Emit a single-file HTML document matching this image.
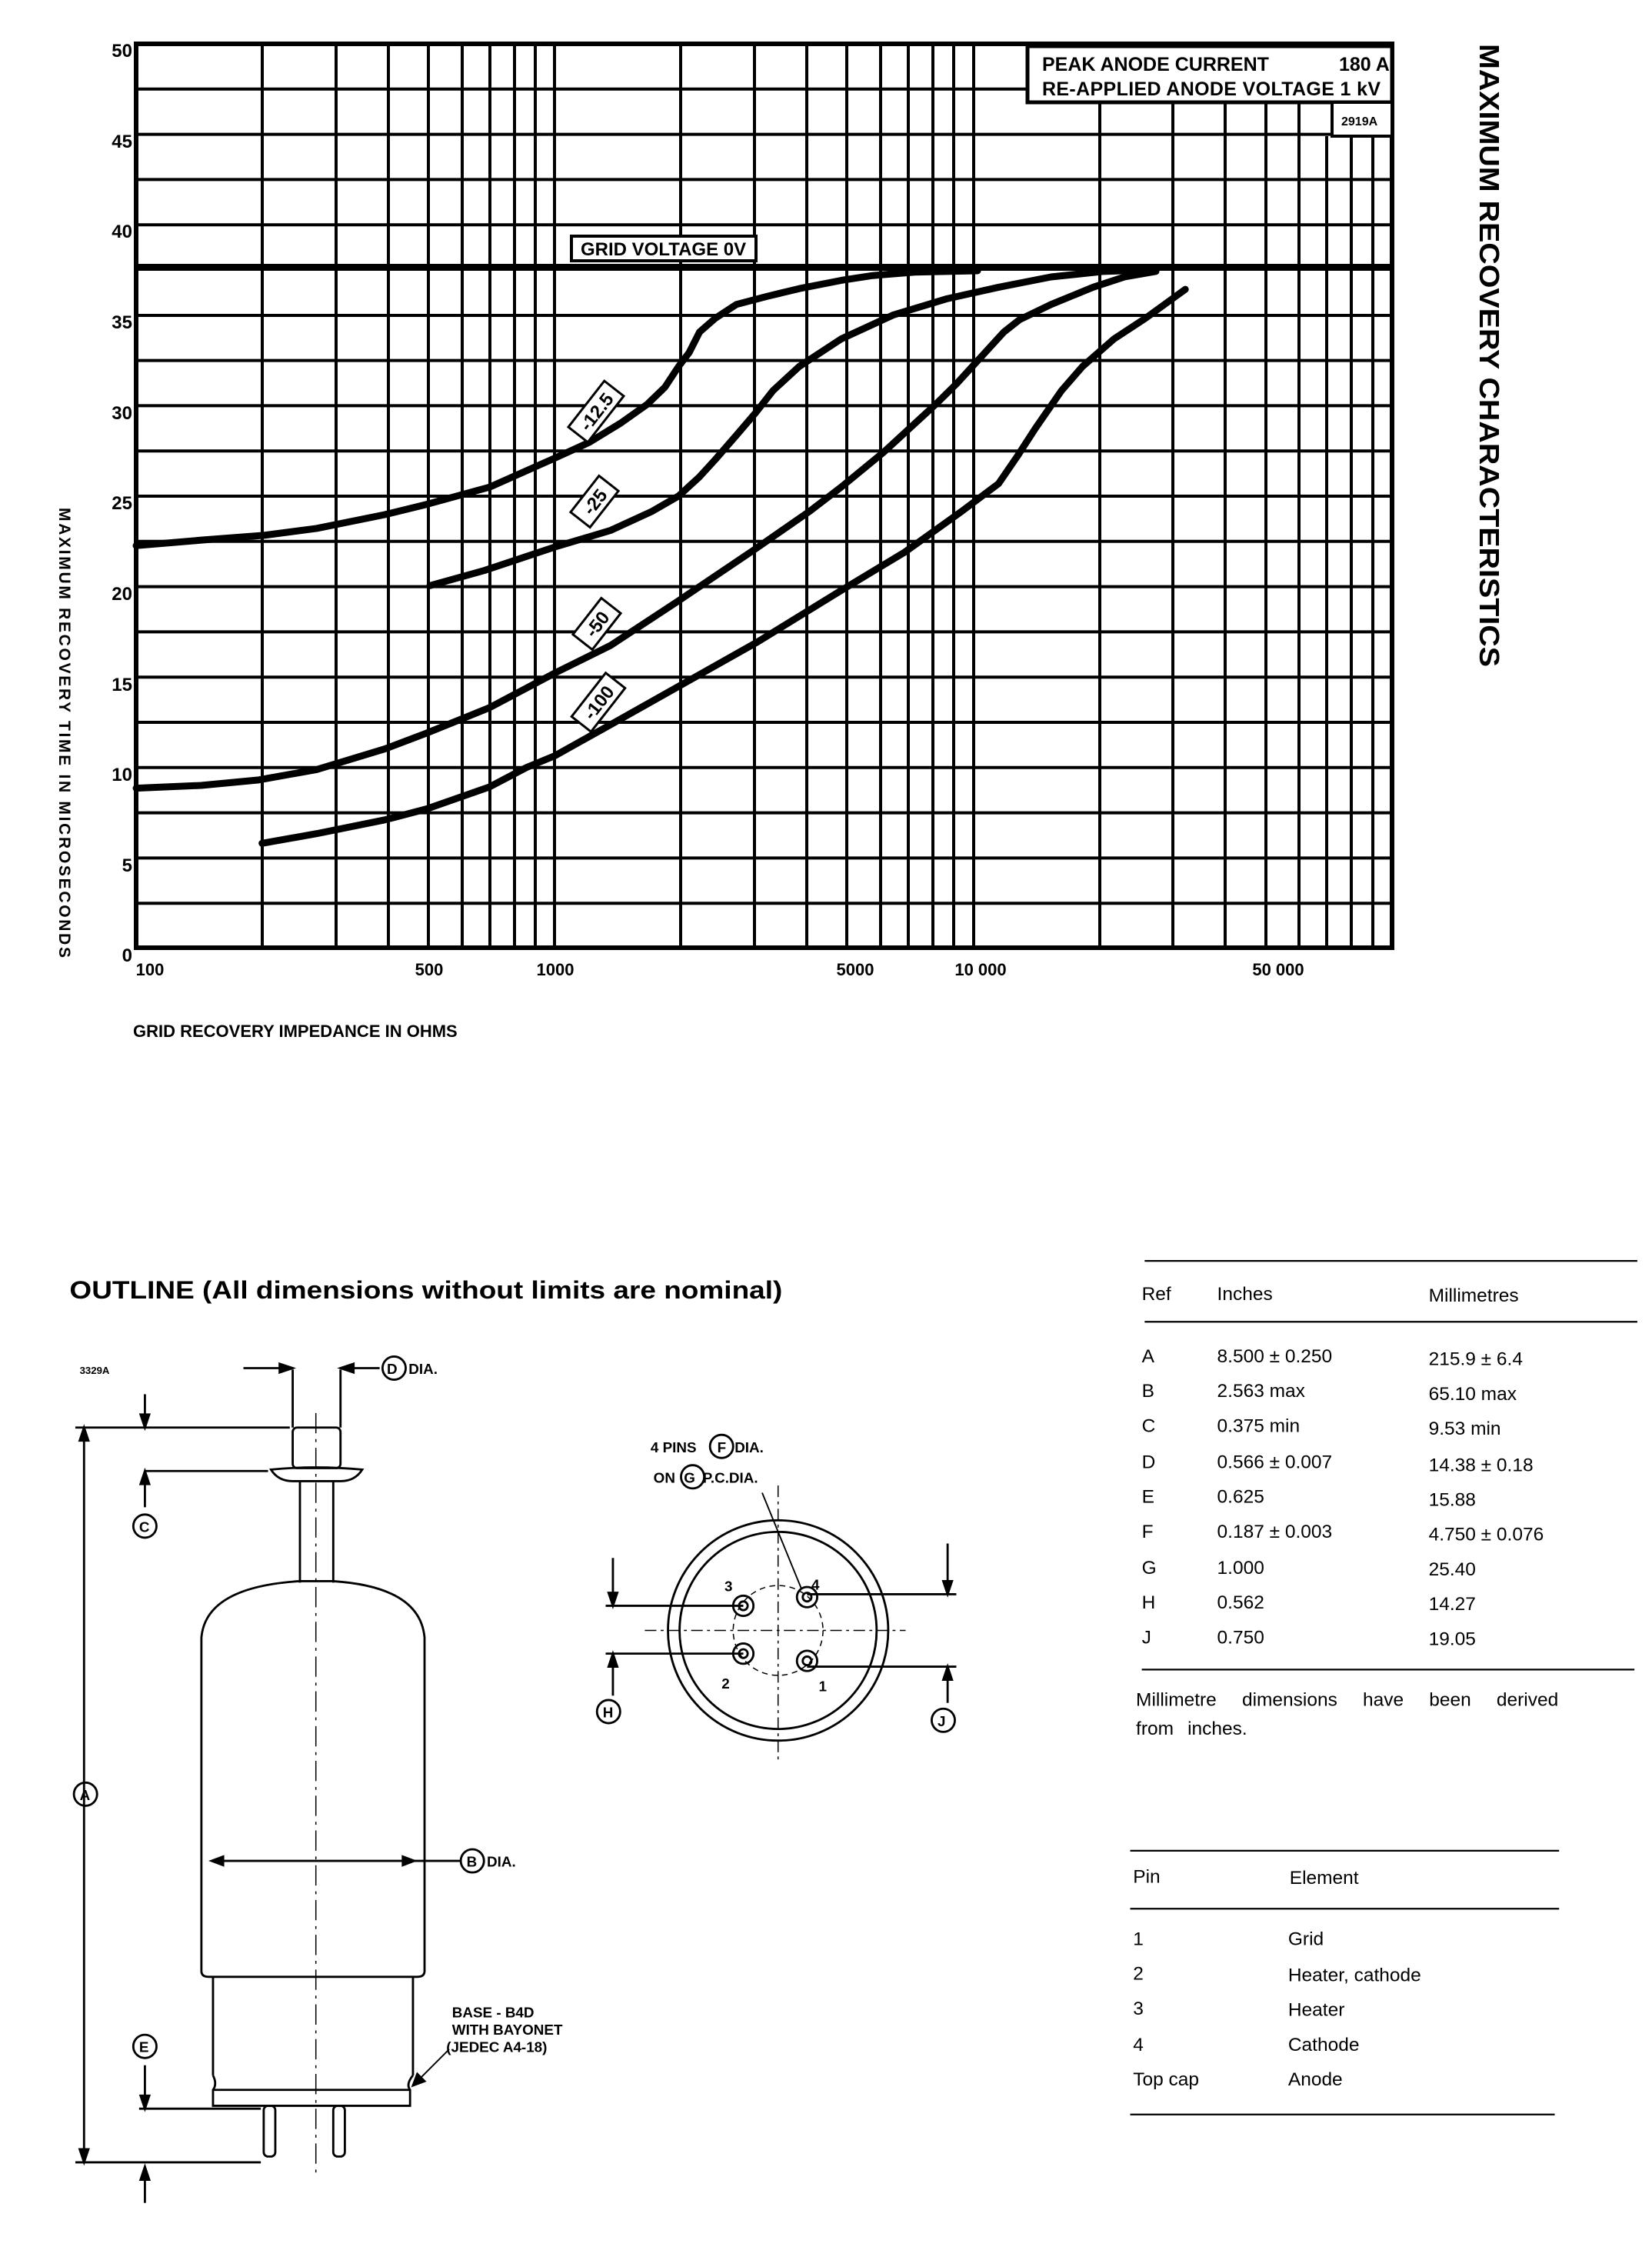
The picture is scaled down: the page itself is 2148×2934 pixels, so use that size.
<!DOCTYPE html>
<html><head><meta charset="utf-8"><style>
html,body{margin:0;padding:0;background:#fff}
svg{display:block}
text{font-family:"Liberation Sans",sans-serif;fill:#000}
.c{font-family:"Liberation Sans Narrow","Liberation Sans",sans-serif;font-weight:bold}
</style></head><body>
<svg width="2148" height="2934" viewBox="0 0 2148 2934" xmlns="http://www.w3.org/2000/svg">
<rect width="2148" height="2934" fill="#fff"/>
<g stroke="#000" stroke-width="4" fill="none">
<rect x="177" y="57" width="1633" height="1175" stroke-width="6"/>
<g>
<line x1="177" y1="115.8" x2="1810" y2="115.8"/><line x1="177" y1="174.6" x2="1810" y2="174.6"/>
<line x1="177" y1="233.4" x2="1810" y2="233.4"/><line x1="177" y1="292.2" x2="1810" y2="292.2"/>
<line x1="177" y1="410" x2="1810" y2="410"/><line x1="177" y1="468.6" x2="1810" y2="468.6"/>
<line x1="177" y1="527.4" x2="1810" y2="527.4"/><line x1="177" y1="586.2" x2="1810" y2="586.2"/>
<line x1="177" y1="645" x2="1810" y2="645"/><line x1="177" y1="703.8" x2="1810" y2="703.8"/>
<line x1="177" y1="762.6" x2="1810" y2="762.6"/><line x1="177" y1="821.4" x2="1810" y2="821.4"/>
<line x1="177" y1="880.2" x2="1810" y2="880.2"/><line x1="177" y1="939" x2="1810" y2="939"/>
<line x1="177" y1="997.8" x2="1810" y2="997.8"/><line x1="177" y1="1056.6" x2="1810" y2="1056.6"/>
<line x1="177" y1="1115.4" x2="1810" y2="1115.4"/><line x1="177" y1="1174.2" x2="1810" y2="1174.2"/>
</g>
<g>
<line x1="341" y1="57" x2="341" y2="1232"/><line x1="437" y1="57" x2="437" y2="1232"/><line x1="505" y1="57" x2="505" y2="1232"/><line x1="557" y1="57" x2="557" y2="1232"/><line x1="601" y1="57" x2="601" y2="1232"/><line x1="637" y1="57" x2="637" y2="1232"/><line x1="669" y1="57" x2="669" y2="1232"/><line x1="696" y1="57" x2="696" y2="1232"/><line x1="721" y1="57" x2="721" y2="1232"/>
<line x1="885" y1="57" x2="885" y2="1232"/><line x1="981" y1="57" x2="981" y2="1232"/><line x1="1049" y1="57" x2="1049" y2="1232"/><line x1="1101" y1="57" x2="1101" y2="1232"/><line x1="1145" y1="57" x2="1145" y2="1232"/><line x1="1181" y1="57" x2="1181" y2="1232"/><line x1="1213" y1="57" x2="1213" y2="1232"/><line x1="1240" y1="57" x2="1240" y2="1232"/><line x1="1266" y1="57" x2="1266" y2="1232"/>
<line x1="1430" y1="133" x2="1430" y2="1232"/><line x1="1525" y1="133" x2="1525" y2="1232"/><line x1="1593" y1="133" x2="1593" y2="1232"/><line x1="1646" y1="133" x2="1646" y2="1232"/><line x1="1689" y1="133" x2="1689" y2="1232"/><line x1="1725" y1="177" x2="1725" y2="1232"/><line x1="1757" y1="177" x2="1757" y2="1232"/><line x1="1785" y1="177" x2="1785" y2="1232"/>
</g>
<rect x="1336" y="60" width="474" height="73" fill="#fff" stroke-width="5"/>
<rect x="1732" y="133" width="78" height="44" fill="#fff" stroke-width="4"/>
<rect x="177" y="343" width="1633" height="9" fill="#000" stroke="none"/>
</g>
<text x="1355" y="92" class="c" font-size="25">PEAK ANODE CURRENT</text>
<text x="1741" y="92" class="c" font-size="25">180 A</text>
<text x="1355" y="124" class="c" font-size="25" textLength="440">RE-APPLIED ANODE VOLTAGE 1 kV</text>
<text x="1744" y="163" class="c" font-size="16">2919A</text>
<g transform="translate(2.38,1.72) scale(1.3642,0.8957)" fill="none" stroke="#000" stroke-width="9" stroke-linejoin="round" stroke-linecap="round">
<path vector-effect="non-scaling-stroke" d="M128,790 L190,782 L250,775 L300,765 L365,745 L405,730 L465,705 L527,663 L560,640 L590,612 L615,585 L632,560 L645,530 L655,510 L665,480 L680,460 L700,440 L730,428 L760,417 L800,405 L830,398 L870,393 L930,391"/>
<path vector-effect="non-scaling-stroke" d="M408,848 L460,826 L527,792 L580,768 L620,740 L645,718 L665,690 L680,665 L700,630 L718,598 L735,565 L760,530 L800,490 L850,455 L900,432 L950,415 L1000,400 L1050,392 L1090,390"/>
<path vector-effect="non-scaling-stroke" d="M128,1142 L190,1138 L245,1130 L300,1115 L365,1085 L405,1062 L465,1025 L527,975 L580,935 L645,870 L718,795 L770,740 L800,705 L840,655 L865,620 L890,585 L910,555 L925,530 L940,505 L955,480 L970,462 L1000,440 L1040,415 L1070,400 L1100,392"/>
<path vector-effect="non-scaling-stroke" d="M248,1222 L300,1208 L365,1188 L405,1172 L465,1140 L500,1112 L527,1095 L580,1050 L650,990 L720,930 L800,855 L860,800 L915,740 L950,700 L968,660 L985,620 L995,598 L1010,565 L1030,530 L1060,490 L1090,460 L1128,418"/>
</g>
<g stroke="#000" stroke-width="3" fill="#fff">
<g transform="translate(775,535) rotate(-52)"><rect x="-38" y="-16" width="76" height="32"/><text x="0" y="9" text-anchor="middle" class="c" font-size="24" stroke="none">-12.5</text></g>
<g transform="translate(773,652) rotate(-52)"><rect x="-30" y="-16" width="60" height="32"/><text x="0" y="9" text-anchor="middle" class="c" font-size="24" stroke="none">-25</text></g>
<g transform="translate(776,811) rotate(-52)"><rect x="-30" y="-16" width="60" height="32"/><text x="0" y="9" text-anchor="middle" class="c" font-size="24" stroke="none">-50</text></g>
<g transform="translate(778,913) rotate(-52)"><rect x="-36" y="-16" width="72" height="32"/><text x="0" y="9" text-anchor="middle" class="c" font-size="24" stroke="none">-100</text></g>
<rect x="743" y="307" width="240" height="32" stroke-width="4"/>
</g>
<text x="755" y="332" class="c" font-size="24">GRID VOLTAGE 0V</text>
<g class="c" font-size="24" text-anchor="end">
<text x="172" y="74">50</text><text x="172" y="192">45</text><text x="172" y="309">40</text><text x="172" y="427">35</text><text x="172" y="545">30</text><text x="172" y="662">25</text><text x="172" y="780">20</text><text x="172" y="898">15</text><text x="172" y="1015">10</text><text x="172" y="1133">5</text><text x="172" y="1250">0</text>
</g>
<g class="c" font-size="22" text-anchor="middle">
<text x="195" y="1268">100</text><text x="558" y="1268">500</text><text x="722" y="1268">1000</text><text x="1112" y="1268">5000</text><text x="1275" y="1268">10 000</text><text x="1662" y="1268">50 000</text>
</g>
<text x="173" y="1348" class="c" font-size="22">GRID RECOVERY IMPEDANCE IN OHMS</text>
<text transform="translate(77,660) rotate(90)" class="c" font-size="21" textLength="585">MAXIMUM RECOVERY TIME IN MICROSECONDS</text>
<text transform="translate(1924,57) rotate(90)" font-weight="bold" font-size="36" textLength="810" lengthAdjust="spacingAndGlyphs">MAXIMUM RECOVERY CHARACTERISTICS</text>

<g transform="scale(1.884)">
<text x="48" y="896" font-weight="bold" font-size="17" textLength="492" lengthAdjust="spacingAndGlyphs">OUTLINE (All dimensions without limits are nominal)</text>
<g font-size="13">
<line x1="790" y1="870" x2="1130" y2="870" stroke="#000" stroke-width="1.2"/>
<text x="788" y="897">Ref</text><text x="840" y="897">Inches</text><text x="986" y="898">Millimetres</text>
<line x1="790" y1="912" x2="1130" y2="912" stroke="#000" stroke-width="1.2"/>
<text x="788" y="940">A</text><text x="840" y="940">8.500 ± 0.250</text><text x="986" y="942">215.9 ± 6.4</text>
<text x="788" y="964">B</text><text x="840" y="964">2.563 max</text><text x="986" y="966">65.10 max</text>
<text x="788" y="988">C</text><text x="840" y="988">0.375 min</text><text x="986" y="990">9.53 min</text>
<text x="788" y="1013">D</text><text x="840" y="1013">0.566 ± 0.007</text><text x="986" y="1015">14.38 ± 0.18</text>
<text x="788" y="1037">E</text><text x="840" y="1037">0.625</text><text x="986" y="1039">15.88</text>
<text x="788" y="1061">F</text><text x="840" y="1061">0.187 ± 0.003</text><text x="986" y="1063">4.750 ± 0.076</text>
<text x="788" y="1086">G</text><text x="840" y="1086">1.000</text><text x="986" y="1087">25.40</text>
<text x="788" y="1110">H</text><text x="840" y="1110">0.562</text><text x="986" y="1111">14.27</text>
<text x="788" y="1134">J</text><text x="840" y="1134">0.750</text><text x="986" y="1135">19.05</text>
<line x1="788" y1="1152" x2="1128" y2="1152" stroke="#000" stroke-width="1.2"/>
<text x="784" y="1177" word-spacing="14">Millimetre dimensions have been derived</text>
<text x="784" y="1197" word-spacing="6">from inches.</text>
<line x1="780" y1="1277" x2="1076" y2="1277" stroke="#000" stroke-width="1.2"/>
<text x="782" y="1299">Pin</text><text x="890" y="1300">Element</text>
<line x1="780" y1="1317" x2="1076" y2="1317" stroke="#000" stroke-width="1.2"/>
<text x="782" y="1342">1</text><text x="889" y="1342">Grid</text>
<text x="782" y="1366">2</text><text x="889" y="1367">Heater, cathode</text>
<text x="782" y="1390">3</text><text x="889" y="1391">Heater</text>
<text x="782" y="1415">4</text><text x="889" y="1415">Cathode</text>
<text x="782" y="1439">Top cap</text><text x="889" y="1439">Anode</text>
<line x1="780" y1="1459" x2="1073" y2="1459" stroke="#000" stroke-width="1.2"/>
</g>
<g fill="none" stroke="#000" stroke-width="1.5">
<rect x="202" y="985" width="33" height="28" rx="3"/>
<path d="M187,1014 Q218,1011 250,1014 Q245,1022 235,1022 L202,1022 Q192,1022 187,1014Z"/>
<line x1="207" y1="1022" x2="207" y2="1092"/><line x1="230" y1="1022" x2="230" y2="1092"/>
<path d="M139,1360 L139,1130 Q142,1095 207,1091 L230,1091 Q290,1095 293,1130 L293,1360 Q293,1364 288,1364 L144,1364 Q139,1364 139,1360Z"/>
<path d="M147,1364 L147,1432 M285,1364 L285,1432"/>
<path d="M147,1432 Q150,1438 147,1442 L147,1453 L283,1453 L283,1442 Q280,1438 285,1432"/>
<line x1="147" y1="1442" x2="283" y2="1442"/>
<rect x="182" y="1453" width="8" height="35" rx="3"/><rect x="230" y="1453" width="8" height="35" rx="3"/>
<line x1="218" y1="975" x2="218" y2="1500" stroke-dasharray="14,4,2,4" stroke-width="0.8"/>
<line x1="146" y1="1284" x2="286" y2="1284"/>
<path d="M146,1284 l8,-3 v6z M286,1284 l-8,-3 v6z" fill="#000"/>
<line x1="286" y1="1284" x2="318" y2="1284"/>
<circle cx="326" cy="1284" r="8"/>
<line x1="52" y1="985" x2="200" y2="985"/><line x1="58" y1="985" x2="58" y2="1492"/>
<path d="M58,985 l-3,9 h6z M58,1492 l-3,-9 h6z" fill="#000"/>
<line x1="52" y1="1492" x2="180" y2="1492"/>
<line x1="96" y1="1455" x2="180" y2="1455"/><line x1="100" y1="1425" x2="100" y2="1455"/><path d="M100,1455 l-3,-9 h6z" fill="#000"/>
<line x1="100" y1="1495" x2="100" y2="1520"/><path d="M100,1495 l-3,9 h6z" fill="#000"/>
<line x1="100" y1="1015" x2="185" y2="1015"/><line x1="100" y1="1015" x2="100" y2="1040"/><path d="M100,1015 l-3,9 h6z" fill="#000"/>
<line x1="100" y1="962" x2="100" y2="985"/><path d="M100,985 l-3,-9 h6z" fill="#000"/>
<line x1="202" y1="945" x2="202" y2="985"/><line x1="235" y1="945" x2="235" y2="985"/>
<line x1="168" y1="944" x2="202" y2="944"/><path d="M202,944 l-9,-3 v6z" fill="#000"/>
<line x1="235" y1="944" x2="262" y2="944"/><path d="M235,944 l9,-3 v6z" fill="#000"/>
<circle cx="272" cy="944" r="8"/>
<circle cx="100" cy="1053" r="8"/><circle cx="59" cy="1238" r="8"/><circle cx="100" cy="1412" r="8"/>
<line x1="287" y1="1437" x2="310" y2="1414" stroke-width="1"/><path d="M285,1439 l3,-8 l5,5z" fill="#000"/>
</g>
<g font-size="10" class="c">
<text x="267" y="948">D</text><text x="282" y="948">DIA.</text>
<text x="96" y="1057">C</text><text x="55" y="1242">A</text><text x="96" y="1416">E</text>
<text x="322" y="1288">B</text><text x="336" y="1288">DIA.</text>
<text x="55" y="948" font-size="7">3329A</text>
<text x="312" y="1392">BASE - B4D</text><text x="312" y="1404">WITH BAYONET</text><text x="308" y="1416">(JEDEC A4-18)</text>
<text x="449" y="1002">4 PINS</text><text x="495" y="1002">F</text><text x="507" y="1002">DIA.</text>
<text x="451" y="1023">ON</text><text x="472" y="1023">G</text><text x="485" y="1023">P.C.DIA.</text>
<text x="416" y="1185">H</text><text x="647" y="1191">J</text>
<text x="500" y="1098">3</text><text x="560" y="1097">4</text><text x="498" y="1165">2</text><text x="565" y="1167">1</text>
</g>
<g fill="none" stroke="#000" stroke-width="1.5">
<circle cx="498" cy="998" r="8"/><circle cx="478" cy="1019" r="8"/>
<circle cx="537" cy="1125" r="76"/><circle cx="537" cy="1125" r="68"/>
<circle cx="537" cy="1125" r="31" stroke-dasharray="4,3" stroke-width="0.8"/>
<circle cx="513" cy="1108" r="7"/><circle cx="513" cy="1108" r="3"/>
<circle cx="557" cy="1102" r="7"/><circle cx="557" cy="1102" r="3"/>
<circle cx="513" cy="1141" r="7"/><circle cx="513" cy="1141" r="3"/>
<circle cx="557" cy="1146" r="7"/><circle cx="557" cy="1146" r="3"/>
<line x1="537" y1="1025" x2="537" y2="1215" stroke-dasharray="8,3,2,3" stroke-width="0.8"/>
<line x1="445" y1="1125" x2="625" y2="1125" stroke-dasharray="8,3,2,3" stroke-width="0.8"/>
<line x1="418" y1="1108" x2="513" y2="1108"/><line x1="418" y1="1141" x2="513" y2="1141"/>
<line x1="557" y1="1100" x2="660" y2="1100"/><line x1="557" y1="1150" x2="660" y2="1150"/>
<line x1="423" y1="1075" x2="423" y2="1108"/><path d="M423,1108 l-3,-9 h6z" fill="#000"/>
<line x1="423" y1="1141" x2="423" y2="1170"/><path d="M423,1141 l-3,9 h6z" fill="#000"/>
<line x1="654" y1="1065" x2="654" y2="1100"/><path d="M654,1100 l-3,-9 h6z" fill="#000"/>
<line x1="654" y1="1150" x2="654" y2="1175"/><path d="M654,1150 l-3,9 h6z" fill="#000"/>
<circle cx="420" cy="1181" r="8"/><circle cx="651" cy="1187" r="8"/>
<line x1="526" y1="1030" x2="553" y2="1096" stroke-width="1"/>
</g>
</g>
</svg>
</body></html>
